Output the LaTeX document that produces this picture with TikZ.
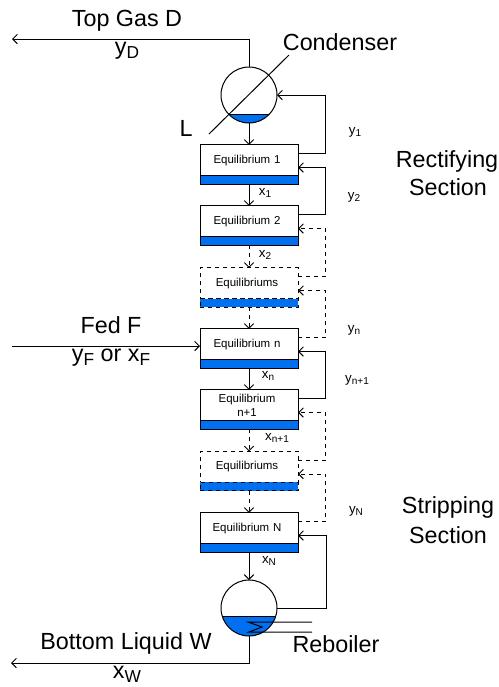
\documentclass[tikz,border=0pt]{standalone}
\usepackage{fontspec}
\setmainfont{Liberation Sans}
\usetikzlibrary{arrows.meta}
\usetikzlibrary{calc}
\definecolor{liquidblue}{RGB}{0,112,240}
\newcommand{\lowbig}[1]{\raisebox{-0.2em}{\fontsize{13}{13}\selectfont #1}}
\newcommand{\lowsmall}[1]{\raisebox{-0.2em}{\fontsize{7.5}{8}\selectfont #1}}
\tikzset{
	flow/.style={line width=0.75pt,-{Straight Barb[length=3.5pt,width=7pt]}},
	pipe/.style={line width=0.75pt},
	eqbox/.style={draw,line width=0.75pt,text width=73.5pt,minimum height=22.9pt,inner sep=0pt,outer sep=0pt,align=center,font=\fontsize{8.6}{10.5}\selectfont,execute at begin node={\advance\rightskip 3pt\relax}},
	eqband/.style={draw,fill=liquidblue,line width=0.75pt,minimum width=73.5pt,minimum height=6.4pt,inner sep=0pt,outer sep=0pt},
	vessel/.style={draw,circle,line width=0.75pt,minimum size=42pt,inner sep=0pt,outer sep=0pt},
	biglabel/.style={anchor=base,inner sep=0pt,font=\fontsize{17.5}{17.5}\selectfont},
	smalllabel/.style={anchor=base,inner sep=0pt,font=\fontsize{10}{10}\selectfont}
}
\begin{document}
\begin{tikzpicture}[x=0.75pt,y=-0.75pt]
	\useasboundingbox (0,0) rectangle (499,687);

	% condenser
	\begin{scope}
		\clip (249,95) circle (21pt);
		\filldraw[fill=liquidblue,draw=black,line width=0.75pt] (200,114.5) rectangle (300,140);
	\end{scope}
	\node[vessel] (cond) at (249,95) {};
	\coordinate (condA) at (209,134);
	\coordinate (condB) at (289,55);
	\draw[pipe] (condA) -- (condB);

	% stages
	\node[eqbox] (eq1) at (249,160.25) {Equilibrium 1};
	\node[eqband,anchor=north] (band1) at (eq1.south) {};
	\node[eqbox] (eq2) at (249,221.25) {Equilibrium 2};
	\node[eqband,anchor=north] (band2) at (eq2.south) {};
	\node[eqbox,dashed] (eqa) at (249,283.25) {Equilibriums};
	\node[eqband,dashed,anchor=north] (banda) at (eqa.south) {};
	\node[eqbox] (eqn) at (249,344.25) {Equilibrium n};
	\node[eqband,anchor=north] (bandn) at (eqn.south) {};
	\node[eqbox] (eqm) at (249,405.25) {Equilibrium\\n+1};
	\node[eqband,anchor=north] (bandm) at (eqm.south) {};
	\node[eqbox,dashed] (eqb) at (249,466.75) {Equilibriums};
	\node[eqband,dashed,anchor=north] (bandb) at (eqb.south) {};
	\node[eqbox] (eqN) at (249,528.25) {Equilibrium N};
	\node[eqband,anchor=north] (bandN) at (eqN.south) {};

	% reboiler
	\begin{scope}
		\clip (249,608) circle (21pt);
		\filldraw[fill=liquidblue,draw=black,line width=0.75pt] (200,616) rectangle (300,650);
	\end{scope}
	\node[vessel] (reb) at (249,608) {};
	\coordinate (coilA) at (312,622);
	\coordinate (coilB) at (312,632);
	\draw[pipe] (coilA) -- (248,622) -- (262,627) -- (249,632) -- (coilB);

	% liquid going down
	\draw[flow] (cond.south) -- (eq1.north);
	\draw[flow] (band1.south) -- (eq2.north);
	\draw[flow,dashed] (band2.south) -- (eqa.north);
	\draw[flow,dashed] (banda.south) -- (eqn.north);
	\draw[flow] (bandn.south) -- (eqm.north);
	\draw[flow,dashed] (bandm.south) -- (eqb.north);
	\draw[flow,dashed] (bandb.south) -- (eqN.north);
	\draw[flow] (bandN.south) -- (reb.north);

	% vapour going up
	\draw[flow] ([yshift=-6.4pt]eq1.north east) -- ++(27.5,0) |- (cond.east);
	\draw[flow] ([yshift=-6.4pt]eq2.north east) -- ++(27.5,0) |- ([yshift=-16.9pt]eq1.north east);
	\draw[flow,dashed] ([yshift=-6.4pt]eqa.north east) -- ++(27.5,0) |- ([yshift=-16.9pt]eq2.north east);
	\draw[flow,dashed] ([yshift=-6.4pt]eqn.north east) -- ++(27.5,0) |- ([yshift=-16.9pt]eqa.north east);
	\draw[flow] ([yshift=-6.4pt]eqm.north east) -- ++(27.5,0) |- ([yshift=-16.9pt]eqn.north east);
	\draw[flow,dashed] ([yshift=-6.4pt]eqb.north east) -- ++(27.5,0) |- ([yshift=-16.9pt]eqm.north east);
	\draw[flow,dashed] ([yshift=-6.4pt]eqN.north east) -- ++(27.5,0) |- ([yshift=-16.9pt]eqb.north east);
	\draw[flow] (reb.east) -- ++(49,0) |- ([yshift=-16.9pt]eqN.north east);

	% streams in and out
	\coordinate (topend) at (12,39);
	\coordinate (feedstart) at (12,346);
	\coordinate (botend) at (11,663);
	\draw[flow] (cond.north) |- (topend);
	\draw[flow] (feedstart) -- (feedstart -| eqn.west);
	\draw[flow] (reb.south) |- (botend);

	% big labels
	\node[biglabel] (topgas) at (127,26) {Top Gas D};
	\node[biglabel] (yD) at (127,54) {y\lowbig{D}};
	\node[biglabel] (condlabel) at (340,50) {Condenser};
	\node[biglabel] (Llabel) at (186,136) {L};
	\node[biglabel] (rect) at (447,167) {Rectifying};
	\node[biglabel] (recs) at (448,195) {Section};
	\node[biglabel] (fed) at (111,333) {Fed F};
	\node[biglabel] (yF) at (111,361) {y\lowbig{F} or x\lowbig{F}};
	\node[biglabel] (strip) at (448,513) {Stripping};
	\node[biglabel] (strs) at (448,543) {Section};
	\node[biglabel] (bottom) at (126,649) {Bottom Liquid W};
	\node[biglabel] (xW) at (127,678) {x\lowbig{W}};
	\node[biglabel] (reblabel) at (336,652) {Reboiler};

	% small labels
	\node[smalllabel] (y1) at (355,134) {y\lowsmall{1}};
	\node[smalllabel] (y2) at (354,199) {y\lowsmall{2}};
	\node[smalllabel] (yn) at (354,332) {y\lowsmall{n}};
	\node[smalllabel] (ym) at (357,382) {y\lowsmall{n+1}};
	\node[smalllabel] (yN) at (356,513) {y\lowsmall{N}};
	\node[smalllabel] (x1) at (265,195) {x\lowsmall{1}};
	\node[smalllabel] (x2) at (265,257) {x\lowsmall{2}};
	\node[smalllabel] (xn) at (268,378) {x\lowsmall{n}};
	\node[smalllabel] (xm) at (277,440) {x\lowsmall{n+1}};
	\node[smalllabel] (xN) at (269,563) {x\lowsmall{N}};

\end{tikzpicture}
\end{document}
